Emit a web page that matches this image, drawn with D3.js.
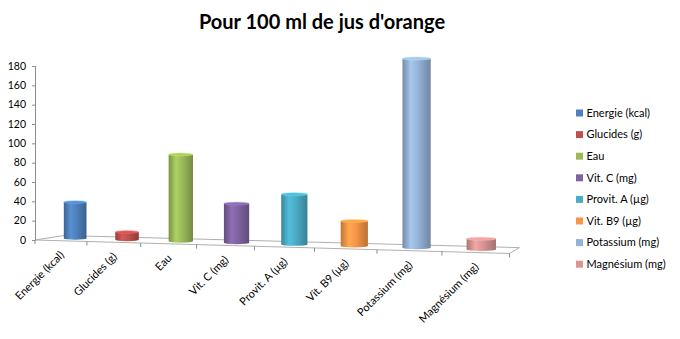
<!DOCTYPE html>
<html>
<head>
<meta charset="utf-8">
<script src="https://cdn.jsdelivr.net/npm/d3@7"></script>
<style>
  body { margin: 0; background: #fff; }
  svg { display: block; }
  text { font-family: Lato, "Open Sans", sans-serif; fill: #000; }
</style>
</head>
<body>
<svg id="chart" width="680" height="339"></svg>
<script>
// Nutrients for 100 ml of orange juice
const title = "Pour 100 ml de jus d'orange";
const categories = ["Energie (kcal)", "Glucides (g)", "Eau", "Vit. C (mg)", "Provit. A (µg)", "Vit. B9 (µg)", "Potassium (mg)", "Magnésium (mg)"];
const values = [38, 8, 88, 39, 49, 24, 178, 10];
const colors = ["#4F81BD", "#C0504D", "#9BBB59", "#8064A2", "#4BACC6", "#F79646", "#95B3D7", "#D99694"];
const yTicks = [0, 20, 40, 60, 80, 100, 120, 140, 160, 180];

const svg = d3.select("#chart");
const defs = svg.append("defs");

// Value axis (front-left edge of the 3D box)
const axisX = 35;
const y = d3.scaleLinear().domain([0, 180]).range([240, 66]);

// Category position along the floor, 0..1
const band = d3.scaleBand().domain(categories).range([0, 1])
  .paddingInner(0.555).paddingOuter(0.2775);

// Perspective mapping of the floor: u along categories, v into depth
const P = { a: 403.2, b: 31.9, d: -22, e: 6.15, g: -0.14, h: 0.0452 };
function project(u, v) {
  const w = 1 + P.g * u + P.h * v;
  return [(P.a * u + P.b * v + axisX) / w, (P.d * u + P.e * v + y(0)) / w, w];
}

// Floor outline
const floorPts = [[0, 0], [1, 0], [1, 1], [0, 1]].map(p => project(p[0], p[1]));
svg.append("path")
  .attr("d", d3.line()(floorPts.map(p => [p[0], p[1]])) + "Z")
  .attr("fill", "none").attr("stroke", "#b0b0b0").attr("stroke-width", 1);

// Category tick marks along the front edge
d3.range(categories.length + 1).forEach(j => {
  const [tx, ty] = project(j / categories.length, 0);
  svg.append("line").attr("x1", tx).attr("x2", tx).attr("y1", ty).attr("y2", ty + 4)
    .attr("stroke", "#8c8c8c");
});

// Value axis line, ticks and labels
svg.append("line").attr("x1", axisX + 0.5).attr("x2", axisX + 0.5)
  .attr("y1", y(0)).attr("y2", y(180)).attr("stroke", "#8c8c8c");
yTicks.forEach(t => {
  svg.append("line").attr("x1", axisX - 3).attr("x2", axisX + 0.5)
    .attr("y1", y(t) + 0.5).attr("y2", y(t) + 0.5).attr("stroke", "#8c8c8c");
  svg.append("text").attr("x", axisX - 9).attr("y", y(t) + 3.7)
    .attr("text-anchor", "end").attr("font-size", 10.5).text(t);
});

// Cylinders
const depth = 0.5;
categories.forEach((cat, i) => {
  const col = d3.color(colors[i]);
  const grad = defs.append("linearGradient").attr("id", "g" + i)
    .attr("x1", "0%").attr("x2", "100%").attr("y1", "0%").attr("y2", "0%");
  [[0, col.darker(0.7)], [0.3, col.brighter(0.3)], [0.55, col], [1, col.darker(0.8)]]
    .forEach(s => grad.append("stop").attr("offset", s[0]).attr("stop-color", s[1]));

  const u0 = band(cat), u1 = u0 + band.bandwidth(), uc = u0 + band.bandwidth() / 2;
  const [xl] = project(u0, depth);
  const [xr] = project(u1, depth);
  const [xc, yb, w] = project(uc, depth);
  const rx = (xr - xl) / 2, ry = 1.3 / w;
  const hpx = (y(0) - y(values[i])) / w;
  const yt = yb - hpx;

  svg.append("path")
    .attr("d", `M${xl},${yt} L${xl},${yb} A${rx},${ry} 0 0 0 ${xr},${yb} L${xr},${yt} Z`)
    .attr("fill", `url(#g${i})`);
  svg.append("ellipse").attr("cx", xc).attr("cy", yt).attr("rx", rx).attr("ry", ry)
    .attr("fill", col.brighter(0.25)).attr("stroke", col.brighter(0.7)).attr("stroke-width", 0.6);
});

// Category labels, rotated
categories.forEach((cat, i) => {
  const [lx, ly] = project((i + 0.5) / categories.length, 0);
  svg.append("text")
    .attr("transform", `translate(${lx + 4},${ly + 15}) rotate(-45)`)
    .attr("text-anchor", "end").attr("font-size", 11).text(cat);
});

// Legend
const legend = svg.append("g").attr("transform", "translate(576,113)");
categories.forEach((cat, i) => {
  const row = legend.append("g").attr("transform", `translate(0,${i * 21.6})`);
  row.append("rect").attr("x", 0).attr("y", -3.5).attr("width", 7).attr("height", 7)
    .attr("fill", colors[i]);
  row.append("text").attr("x", 10.5).attr("y", 3.8).attr("font-size", 11).text(cat);
});

// Title
svg.append("text").attr("x", 322).attr("y", 28.5).attr("text-anchor", "middle")
  .attr("font-size", 20).attr("font-weight", "bold").text(title);
</script>
</body>
</html>
